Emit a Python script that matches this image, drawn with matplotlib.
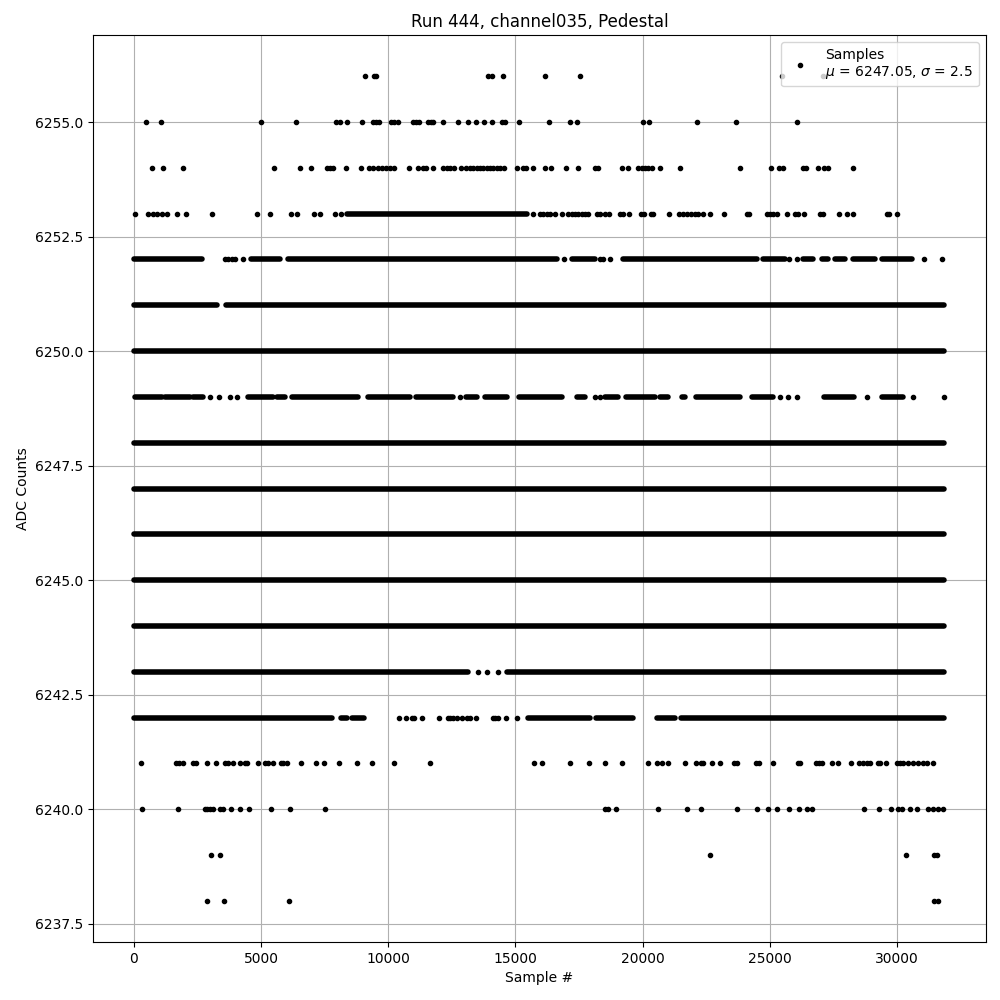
import matplotlib
matplotlib.use("Agg")
import matplotlib.pyplot as plt

# ---- data (sample index positions per ADC level) ----
# isolated samples per ADC level
pts_6256 = [9095, 9437, 9527, 13907, 14077, 14521, 16173, 17549, 25492, 27104]
pts_6255 = [460, 1073, 5005, 6382, 7954, 8100, 8387, 8977, 9410, 9515, 9621, 10105,
            10223, 10369, 10982, 11088, 11206, 11572, 11678, 11769, 12162, 12740,
            13146, 13437, 13773, 14064, 14457, 14587, 15127, 16330, 17144, 17407,
            20026, 20250, 22149, 23683, 26081]
pts_6254 = [720, 1153, 1940, 5505, 6540, 6972, 7577, 7707, 7837, 8348, 8938, 9252,
            9410, 9581, 9738, 9896, 10066, 10223, 10825, 11180, 11352, 11482, 11769,
            12139, 12296, 12425, 12583, 12858, 13054, 13212, 13342, 13474, 13605,
            13735, 13866, 13998, 14128, 14262, 14391, 14548, 15048, 15307, 15413,
            15677, 16161, 16397, 16998, 17470, 18127, 18257, 19176, 19436, 19829,
            19963, 20093, 20222, 20356, 20694, 21480, 23839, 25058, 25350, 25507,
            26316, 26423, 26907, 27143, 27300, 28284]
pts_6253 = [52, 538, 760, 917, 1088, 1284, 1703, 2057, 3079, 4848, 5360, 6173, 6396,
            7066, 7313, 7916, 8125, 15677, 15964, 16094, 16227, 16357, 16554, 16841,
            17077, 17211, 17340, 17470, 17604, 17733, 17863, 18194, 18323, 18520,
            18689, 19110, 19240, 19476, 19923, 20053, 20317, 20419, 21024, 21441,
            21598, 21732, 21889, 22058, 22188, 22362, 22660, 23211, 24092, 24194,
            24878, 25008, 25138, 25271, 25688, 25991, 26121, 26344, 26974, 27103,
            27733, 28023, 28284, 29596, 29698, 29989]
pts_6252 = [3578, 3709, 3840, 3971, 4273, 16920, 18323, 18453, 18716, 25766, 26057,
            31076, 31760]
pts_6249 = [2988, 3355, 3775, 4037, 12818, 18127, 18323, 25400, 25728, 26057, 28810,
            30643, 31862]
pts_6243 = [13539, 13866, 14325]
pts_6242 = [10433, 10695, 10918, 11010, 11337, 12005, 12334, 12425, 12556, 12688,
            12884, 13081, 13212, 13435, 14103, 14194, 14325, 14627, 15072]
pts_6241 = [288, 1651, 1756, 1940, 2333, 2426, 2857, 3237, 3578, 3683, 3906, 4168,
            4365, 4456, 4888, 5151, 5256, 5478, 5780, 5872, 6029, 6579, 7169, 7483,
            8073, 8781, 9345, 10236, 11651, 15728, 16056, 17156, 17903, 18532, 19200,
            20222, 20552, 20773, 21009, 21677, 22086, 22295, 22362, 22740, 23054,
            23604, 23722, 24457, 24588, 25138, 26097, 26187, 26817, 26947, 27040,
            27433, 27693, 28193, 28519, 28676, 28810, 28940, 29266, 29332, 29556,
            29989, 30120, 30249, 30446, 30618, 30839, 31036, 31193, 31405]
pts_6240 = [327, 1743, 2792, 2883, 2988, 3095, 3381, 3488, 3802, 4180, 4508, 5400,
            6147, 7523, 18520, 18651, 18940, 20616, 21756, 22306, 23722, 24509,
            24941, 25295, 25766, 26135, 26450, 26659, 28704, 29306, 29765, 30028,
            30185, 30513, 30800, 31232, 31429, 31626, 31822]
pts_6239 = [3040, 3394, 22660, 30367, 31469, 31560]
pts_6238 = [2883, 3551, 6107, 31469, 31626]

# densely filled runs of consecutive samples per ADC level: (first, last)
runs_6253 = [(8361, 15450)]
runs_6252 = [(0, 2660), (4600, 5740), (6042, 16620), (17210, 18127), (19240, 24484),
             (24745, 25598), (26318, 26711), (27040, 27300), (27564, 27957),
             (28284, 29136), (29398, 30578)]
runs_6251 = [(0, 3250), (3617, 31850)]
runs_6250 = [(0, 31850)]
runs_6249 = [(50, 1088), (1219, 2202), (2333, 2726), (4495, 5478), (5610, 5937),
             (6199, 8820), (9213, 10852), (11088, 12556), (13054, 13474),
             (13801, 14653), (15150, 16815), (17407, 17733), (18520, 19043),
             (19345, 20486), (20682, 21009), (21536, 21665), (22099, 23829),
             (24288, 25138), (27131, 28310), (29398, 30250)]
runs_6248 = [(0, 31850)]
runs_6247 = [(0, 31850)]
runs_6246 = [(0, 31850)]
runs_6245 = [(0, 31850)]
runs_6244 = [(0, 31850)]
runs_6243 = [(0, 13150), (14650, 31850)]
runs_6242 = [(0, 7800), (8125, 8361), (8558, 9057), (15504, 17929), (18166, 19633),
             (20552, 21272), (21496, 31850)]

legend_label = "Samples\n$\\mu$ = 6247.05, $\\sigma$ = 2.5"
title = "Run 444, channel035, Pedestal"

points_by_level = {6256: pts_6256, 6255: pts_6255, 6254: pts_6254, 6253: pts_6253,
                   6252: pts_6252, 6249: pts_6249, 6243: pts_6243, 6242: pts_6242,
                   6241: pts_6241, 6240: pts_6240, 6239: pts_6239, 6238: pts_6238}
runs_by_level = {6253: runs_6253, 6252: runs_6252, 6251: runs_6251, 6250: runs_6250,
                 6249: runs_6249, 6248: runs_6248, 6247: runs_6247, 6246: runs_6246,
                 6245: runs_6245, 6244: runs_6244, 6243: runs_6243, 6242: runs_6242}

fig = plt.figure(figsize=(10, 10), dpi=100)
ax = fig.add_subplot(111)
fig.subplots_adjust(left=0.0933, right=0.9855, bottom=0.058, top=0.965)

for lvl, runs in runs_by_level.items():
    starts = [r[0] for r in runs]
    ends = [r[1] for r in runs]
    ax.hlines([lvl] * len(runs), starts, ends, colors="k", linewidth=4.0,
              capstyle="round", zorder=2)

first = True
for lvl, xs in points_by_level.items():
    ax.plot(xs, [lvl] * len(xs), ".", color="k", linestyle="none",
            label=legend_label if first else None, zorder=2)
    first = False

ax.set_xlim(-1594, 33474)
ax.set_ylim(6237.1, 6256.9)
ax.grid(True)
ax.set_title(title)
ax.set_xlabel("Sample #")
ax.set_ylabel("ADC Counts")
ax.legend(loc="upper right")

fig.savefig("out.png", dpi=100)
